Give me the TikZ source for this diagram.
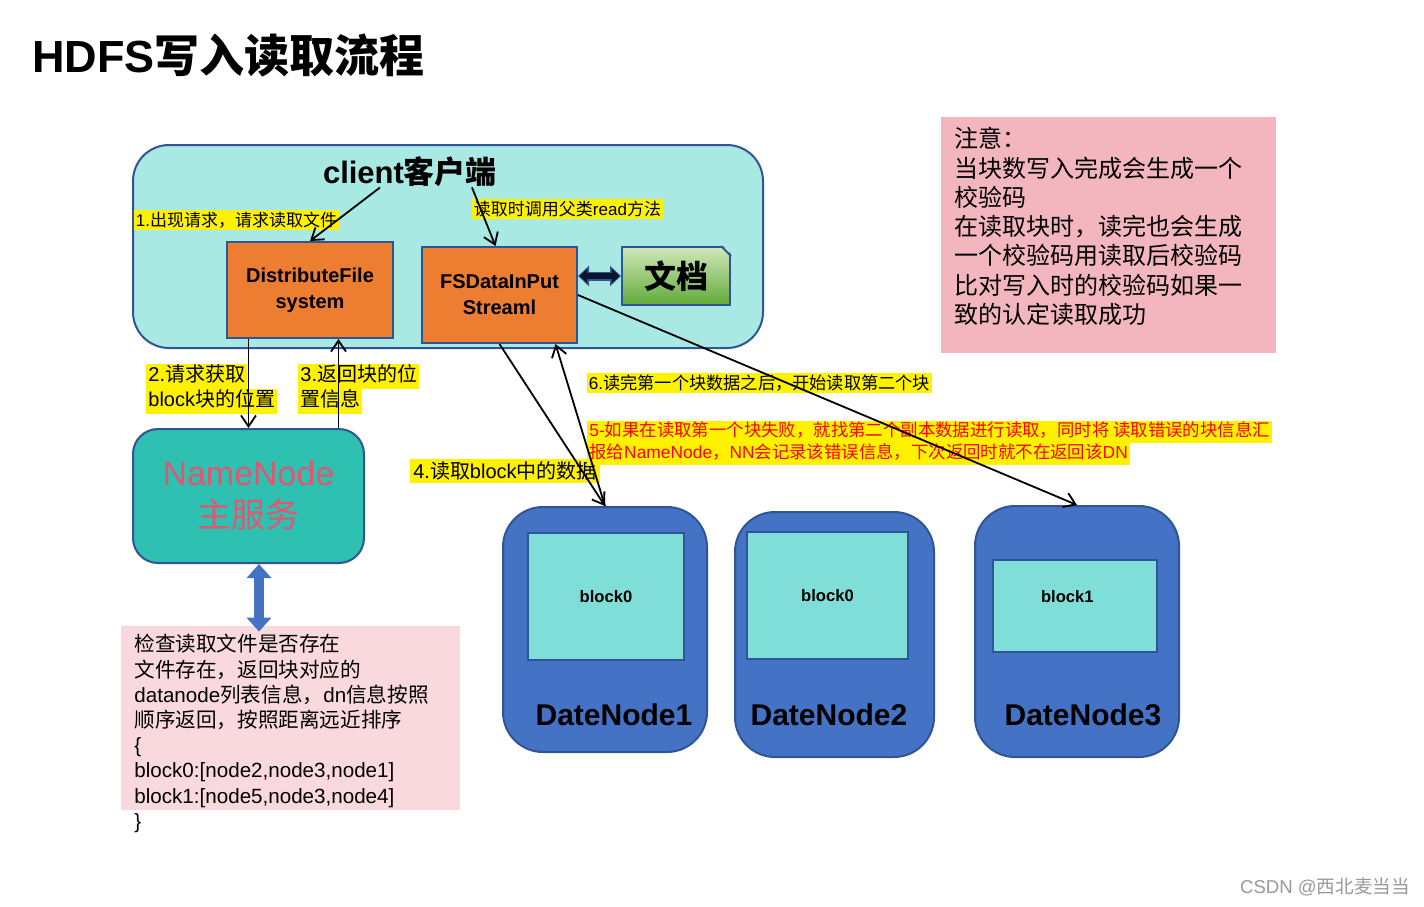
\documentclass[tikz,border=0pt]{standalone}
\usepackage{fontspec}
\setmainfont{Liberation Sans}
\newfontfamily\zhfont{Noto Sans CJK SC}
\usepackage{tikz}
\usetikzlibrary{arrows.meta,positioning}
\definecolor{clientbg}{RGB}{169,233,227}
\definecolor{boxline}{RGB}{47,85,151}
\definecolor{orangebox}{RGB}{237,125,49}
\definecolor{nnteal}{RGB}{46,192,176}
\definecolor{nnred}{RGB}{226,86,112}
\definecolor{dnblue}{RGB}{68,114,196}
\definecolor{blockcyan}{RGB}{127,223,216}
\definecolor{chkpink}{RGB}{249,217,222}
\definecolor{notepink}{RGB}{244,182,190}
\definecolor{docgreenA}{RGB}{208,232,186}
\definecolor{docgreenB}{RGB}{96,170,56}
\definecolor{arrowdark}{RGB}{12,20,40}
\newcommand{\zh}[1]{{\zhfont #1}}
\newcommand{\fs}[2]{\fontsize{#1}{#2}\selectfont}
\newcommand{\hl}[1]{{\setlength{\fboxsep}{0pt}\colorbox{yellow}{\strut\kern1pt#1\kern1pt}}}

\begin{document}
\begin{tikzpicture}[
            x=0.5pt, y=-0.5pt,
            >={Straight Barb[length=5.5pt,width=7.5pt]},
            arrow_style/.style={->, line width=0.9pt},
            orange_box/.style={draw=boxline, line width=1pt, fill=orangebox,
                align=center, font=\fs{10}{13}\bfseries, inner sep=0pt},
            yellow_lbl/.style={fill=yellow, inner sep=1pt},
            dn_box/.style={draw=boxline, line width=1pt, fill=dnblue,
                rounded corners=20pt, inner sep=0pt},
            block_box/.style={draw=boxline, line width=1pt, fill=blockcyan,
                font=\fs{8.3}{10}\bfseries, inner sep=0pt},
            dn_lbl/.style={font=\fs{15}{18}\bfseries, inner sep=0pt}
        ]
        \path[use as bounding box, fill=white] (0,0) rectangle (1424,906);

        % Title
        \node[anchor=west, inner sep=0pt, font=\fs{22.5}{26}\bfseries] (title) at (32,56) {HDFS\zh{写入读取流程}};

        % Client
        \node[draw=boxline, line width=1pt, fill=clientbg, rounded corners=18pt,
            minimum width=315pt, minimum height=101.5pt] (client) at (448,246.5) {};
        \node[font=\fs{15.5}{18}\bfseries, inner sep=0pt] (clientlbl) at (410,172) {client\zh{客户端}};
        \node[orange_box, minimum width=83pt, minimum height=48pt] (dfs) at (310,290) {DistributeFile\\system};
        \node[orange_box, minimum width=77.5pt, minimum height=48pt] (fsd) at (499.5,295) {FSDataInPut\\Streaml};
        \node[draw=boxline, line width=1pt, top color=docgreenA, bottom color=docgreenB,
            minimum width=54pt, minimum height=29pt, inner sep=0pt, font=\fs{16}{19}\bfseries,
            right=21.5pt of fsd.north east, anchor=north west] (doc) {\zh{文档}};
        \fill[clientbg] ([xshift=-5pt,yshift=1pt]doc.north east) -- ([xshift=1pt,yshift=1pt]doc.north east)
            -- ([xshift=1pt,yshift=-5pt]doc.north east) -- cycle;
        \draw[boxline, line width=1pt] ([xshift=-5pt]doc.north east) -- ([yshift=-5pt]doc.north east);

        % Labels in the client
        \node[yellow_lbl, font=\fs{8.5}{10}] (lab1) at (236.5,220) {1.\zh{出现请求，请求读取文件}};
        \node[yellow_lbl, font=\fs{8.5}{10}] (labread) at (567.5,209) {\zh{读取时调用父类}read\zh{方法}};

        % NameNode
        \node[draw=boxline, line width=1pt, fill=nnteal, rounded corners=12.5pt,
            minimum width=115.5pt, minimum height=67pt, align=center, text=nnred,
            font=\fs{17}{21}, inner sep=0pt] (nn) at (248.5,496) {NameNode\\\zh{主服务}};
        \node[anchor=north west, inner sep=0pt, align=left, font=\fs{10}{12.5}] (lab2) at (146,364)
            {\hl{2.\zh{请求获取}}\\\hl{block\zh{块的位置}}};
        \node[anchor=north west, inner sep=0pt, align=left, font=\fs{10}{12.5}] (lab3) at (298,364)
            {\hl{3.\zh{返回块的位}}\\\hl{\zh{置信息}}};

        % Check box
        \node[fill=chkpink, minimum width=169.5pt, minimum height=92pt, inner sep=0pt] (chkbox) at (290.5,718) {};
        \node[anchor=north west, inner sep=0pt, align=left, font=\fs{10.3}{12.6}] (chktext) at (134,634)
            {\zh{检查读取文件是否存在}\\
             \zh{文件存在，返回块对应的}\\
             datanode\zh{列表信息，}dn\zh{信息按照}\\
             \zh{顺序返回，按照距离远近排序}\\
             \{\\
             block0:[node2,node3,node1]\\
             block1:[node5,node3,node4]\\
             \}};

        % Note
        \node[fill=notepink, minimum width=167.5pt, minimum height=118pt, inner sep=0pt] (notebox) at (1108.5,235) {};
        \node[anchor=north west, inner sep=0pt, align=left, font=\zhfont\fs{12}{14.65}] (notetext) at (954,127)
            {注意：\\
             当块数写入完成会生成一个\\
             校验码\\
             在读取块时，读完也会生成\\
             一个校验码用读取后校验码\\
             比对写入时的校验码如果一\\
             致的认定读取成功};

        % DataNodes
        \node[dn_box, minimum width=102pt, minimum height=122.5pt] (dn1) at (605,629.5) {};
        \node[dn_box, minimum width=99.5pt, minimum height=122.5pt] (dn2) at (834.5,634.5) {};
        \node[dn_box, minimum width=102pt, minimum height=125.5pt] (dn3) at (1077,631.5) {};
        \node[block_box, minimum width=78pt, minimum height=63.5pt] (blk1) at (606,596.5) {block0};
        \node[block_box, minimum width=80.5pt, minimum height=63.5pt] (blk2) at (827.5,595.5) {block0};
        \node[block_box, minimum width=82pt, minimum height=46pt, text width=66pt, align=left,
            text depth=10pt] (blk3) at (1075,606) {\hspace*{16pt}block1};
        \node[dn_lbl] (dn1lbl) at (614,715) {DateNode1};
        \node[dn_lbl] (dn2lbl) at (829,715) {DateNode2};
        \node[dn_lbl] (dn3lbl) at (1083,715) {DateNode3};

        % Labels on the read path
        \node[yellow_lbl, inner sep=1.5pt, font=\fs{10}{12.5}] (lab4) at (505,471) {4.\zh{读取}block\zh{中的数据}};
        \node[yellow_lbl, font=\fs{8.6}{10}] (lab6) at (759.5,383) {6.\zh{读完第一个块数据之后，开始读取第二个块}};
        \node[anchor=north west, inner sep=0pt, align=left, text=red, font=\fs{8.7}{11}] (lab5) at (587,421)
            {\hl{5-\zh{如果在读取第一个块失败，就找第二个副本数据进行读取，同时将 读取错误的块信息汇}}\\
             \hl{\zh{报给}NameNode\zh{，}NN\zh{会记录该错误信息，下次返回时就不在返回该}DN}};

        % Watermark
        \node[text=black!40, font=\fs{9.3}{11}] (mark) at (1325,887) {CSDN @\zh{西北麦当当}};

        % Arrows
        \draw[arrow_style] ([xshift=-15pt]clientlbl.south) -- (dfs.north);
        \draw[arrow_style] ([xshift=31pt]clientlbl.south) -- ([xshift=-2pt]fsd.north);
        \draw[arrow_style] (dfs.south -| nn.north) -- (nn.north);
        \draw[arrow_style] ([xshift=45pt]nn.north) -- ([xshift=45pt]nn.north |- dfs.south);
        \draw[arrow_style] (fsd.south) -- (dn1.north);
        \draw[arrow_style] (dn1.north) -- ([xshift=28pt]fsd.south);
        \draw[arrow_style] (fsd.east) -- (dn3.north);

        % Block arrows
        \draw[line width=4.5pt, boxline, {Triangle[width=10pt,length=5.5pt]}-{Triangle[width=10pt,length=5.5pt]}]
            (fsd.east |- doc.center) -- (doc.west |- doc.center);
        \draw[line width=2.6pt, arrowdark, {Triangle[width=7pt,length=3.8pt]}-{Triangle[width=7pt,length=3.8pt]}]
            ([xshift=0.8pt]fsd.east |- doc.center) -- ([xshift=-0.8pt]doc.west |- doc.center);
        \draw[line width=5pt, dnblue, {Triangle[width=12pt,length=7pt]}-{Triangle[width=12pt,length=7pt]}]
            ([xshift=5.25pt]nn.south) -- ([xshift=5.25pt,yshift=-3pt]nn.south |- chkbox.north);
        \end{tikzpicture}
\end{document}
